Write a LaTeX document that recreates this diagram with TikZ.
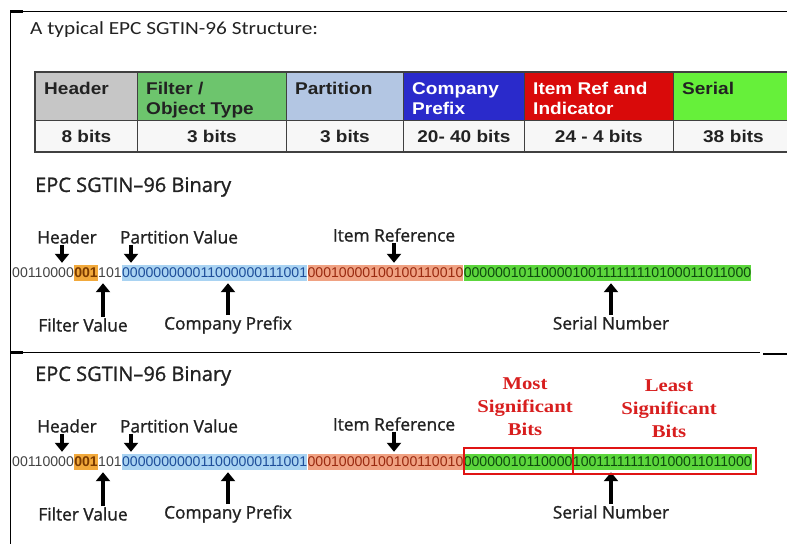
\documentclass[tikz,border=0pt]{standalone}
\usepackage{fontspec}
\setmainfont{Liberation Sans}
\newfontfamily\titlefont[FakeStretch=1.15]{Carlito}
\newfontfamily\tabfont[FakeStretch=1.12]{Liberation Sans}
\newfontfamily\labfont[FakeBold=1.2]{Open Sans}
\newfontfamily\binfont{Liberation Sans}
\newfontfamily\redfont[FakeStretch=1.15]{Liberation Serif}
\usetikzlibrary{arrows.meta}
\definecolor{hdrbg}{HTML}{C6C6C6}
\definecolor{filtbg}{HTML}{6DC56D}
\definecolor{partbg}{HTML}{B3C6E3}
\definecolor{compbg}{HTML}{2A2ACB}
\definecolor{itembg}{HTML}{D90A0A}
\definecolor{serbg}{HTML}{66F03A}
\definecolor{valbg}{HTML}{F7F7F7}
\definecolor{tabline}{HTML}{404040}
\definecolor{plainbit}{HTML}{444444}
\definecolor{fhl}{HTML}{F2A93B}
\definecolor{ftx}{HTML}{7A3A00}
\definecolor{chl}{HTML}{A9D3F2}
\definecolor{ctx}{HTML}{1E4E9A}
\definecolor{ihl}{HTML}{F0A283}
\definecolor{itx}{HTML}{9A2A10}
\definecolor{shl}{HTML}{5CD63C}
\definecolor{stx}{HTML}{0E4A0E}
\definecolor{redlab}{HTML}{D81E1E}
\definecolor{redbox}{HTML}{E01414}
\definecolor{ink}{HTML}{222222}
\tikzset{
  hcell/.style={draw=tabline, line width=0.8pt, anchor=north west, minimum height=48pt, inner sep=0pt},
  vcell/.style={draw=tabline, line width=0.8pt, fill=valbg, anchor=north west, minimum height=32pt, inner sep=0pt,
    font=\tabfont\bfseries\fontsize{17}{20}\selectfont, text=ink},
  htext/.style={anchor=north west, align=left, inner sep=0pt, font=\tabfont\bfseries\fontsize{17}{20}\selectfont},
  sectitle/.style={anchor=west, inner sep=0pt, font=\labfont\fontsize{20}{23}\selectfont, text=ink},
  lab/.style={inner sep=1pt, font=\labfont\fontsize{17.3}{19}\selectfont, text=ink},
  bits/.style={anchor=west, inner xsep=0pt, inner ysep=0pt, minimum height=16pt,
    font=\binfont\fontsize{14.1}{15}\selectfont},
  bigarrow/.style={line width=3.4pt, -{Triangle[width=14pt,length=9pt]}, black},
  redtext/.style={align=center, inner sep=0pt, text=redlab, font=\redfont\bfseries\fontsize{18}{23}\selectfont},
  rbox/.style={draw=redbox, line width=2pt},
}
\newcommand\binrow[2]{%
  \node[sectitle] (t#1) at (35,{187+#2}) {EPC SGTIN–96 Binary};
  \node[lab] (lh#1) at (67,{237+#2}) {Header};
  \node[lab] (lp#1) at (179,{237+#2}) {Partition Value};
  \node[lab] (li#1) at (394,{235+#2}) {Item Reference};
  \node[bits, text=plainbit] (bh#1) at (12,{273+#2}) {00110000};
  \node[bits, fill=fhl, text=ftx, font=\binfont\bfseries\fontsize{14.1}{15}\selectfont] (bf#1) at (bh#1.east) {001};
  \node[bits, text=plainbit] (bp#1) at (bf#1.east) {101};
  \node[bits, fill=chl, text=ctx] (bc#1) at (bp#1.east) {000000000011000000111001};
  \node[bits, fill=ihl, text=itx] (bi#1) at (bc#1.east) {00010000100100110010};
  \node[lab] (lf#1) at (83,{325+#2}) {Filter Value};
  \node[lab] (lc#1) at (228,{325+#2}) {Company Prefix};
  \node[lab] (ls#1) at (611,{323+#2}) {Serial Number};
  \draw[bigarrow] ([xshift=-5pt]lh#1.south) -- ([xshift=-5pt,yshift=2pt]lh#1.south |- bh#1.north);
  \draw[bigarrow] ([xshift=-48pt]lp#1.south) -- ([xshift=-48pt,yshift=2pt]lp#1.south |- bh#1.north);
  \draw[bigarrow] (li#1.south) -- ([yshift=2pt]li#1.south |- bh#1.north);
  \draw[bigarrow] ([xshift=20pt]lf#1.north) -- ([xshift=20pt,yshift=-2pt]lf#1.north |- bh#1.south);
  \draw[bigarrow] (lc#1.north) -- ([yshift=-2pt]lc#1.north |- bh#1.south);
  \draw[bigarrow] (ls#1.north) -- ([yshift=-2pt]ls#1.north |- bh#1.south);
}
\begin{document}
\begin{tikzpicture}[x=1pt,y=-1pt]
\useasboundingbox[fill=white] (0,0) rectangle (787,544);
% frame
\draw[line width=1.2pt] (10,11.5) -- (787,11.5);
\draw[line width=2.5pt] (10,11.5) -- (23,11.5);
\draw[line width=1.5pt] (10.5,11) -- (10.5,544);
\draw[line width=1.2pt] (10,352.5) -- (760,352.5);
\draw[line width=3pt] (10,352) -- (23,352);
\draw[line width=2pt] (763,354) -- (787,354);
% title
\node[anchor=west, inner sep=0pt, font=\titlefont\fontsize{18.5}{21}\selectfont, text=ink] (title) at (30,30) {A typical EPC SGTIN-96 Structure:};
% table header row
\node[hcell, fill=hdrbg, minimum width=102pt] (h1) at (35,72) {};
\node[hcell, fill=filtbg, minimum width=149pt] (h2) at (137,72) {};
\node[hcell, fill=partbg, minimum width=117pt] (h3) at (286,72) {};
\node[hcell, fill=compbg, minimum width=121pt] (h4) at (403,72) {};
\node[hcell, fill=itembg, minimum width=149pt] (h5) at (524,72) {};
\node[hcell, fill=serbg, minimum width=120pt] (h6) at (673,72) {};
\node[htext, text=ink] (x1) at ([xshift=9pt,yshift=-10pt]h1.north west) {Header};
\node[htext, text=ink] (x2) at ([xshift=9pt,yshift=-10pt]h2.north west) {Filter /\\Object Type};
\node[htext, text=ink] (x3) at ([xshift=9pt,yshift=-10pt]h3.north west) {Partition};
\node[htext, text=white] (x4) at ([xshift=9pt,yshift=-10pt]h4.north west) {Company\\Prefix};
\node[htext, text=white] (x5) at ([xshift=9pt,yshift=-10pt]h5.north west) {Item Ref and\\Indicator};
\node[htext, text=ink] (x6) at ([xshift=9pt,yshift=-10pt]h6.north west) {Serial};
% table value row
\node[vcell, minimum width=102pt] (v1) at (35,120) {8 bits};
\node[vcell, minimum width=149pt] (v2) at (137,120) {3 bits};
\node[vcell, minimum width=117pt] (v3) at (286,120) {3 bits};
\node[vcell, minimum width=121pt] (v4) at (403,120) {20- 40 bits};
\node[vcell, minimum width=149pt] (v5) at (524,120) {24 - 4 bits};
\node[vcell, minimum width=120pt, text width=114pt, align=center] (v6) at (673,120) {38 bits};
\draw[line width=1.8pt, tabline] (35,72) rectangle (795,152);
% binary sections
\binrow{a}{0}
\node[bits, fill=shl, text=stx] (bs) at (bia.east) {00000010110000100111111110100011011000};
\binrow{b}{189}
\node[bits, fill=shl, text=stx] (bsm) at (bib.east) {00000010110000};
\node[bits, fill=shl, text=stx] (bsl) at (bsm.east) {100111111110100011011000};
\draw[rbox] ([yshift=-4pt]bsm.south west) rectangle ([yshift=6pt]bsm.north east);
\draw[rbox] ([yshift=-4pt]bsl.south west) rectangle ([xshift=4pt,yshift=6pt]bsl.north east);
\node[redtext] (msb) at (525,407) {Most\\Significant\\Bits};
\node[redtext] (lsb) at (669,409) {Least\\Significant\\Bits};
\end{tikzpicture}
\end{document}
